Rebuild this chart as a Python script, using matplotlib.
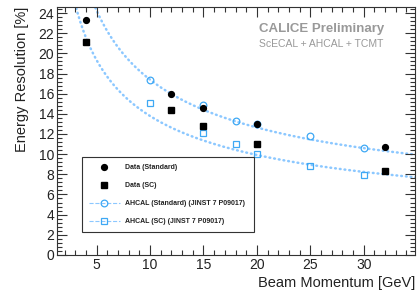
import numpy as np
import matplotlib
matplotlib.use('Agg')
import matplotlib.pyplot as plt
from matplotlib.ticker import MultipleLocator

plt.rcParams['font.family'] = ['Liberation Sans', 'DejaVu Sans']

# data
e_data = [4, 12, 15, 20, 32]
res_std = [23.3, 16.0, 14.6, 13.0, 10.7]
res_sc = [21.1, 14.4, 12.8, 11.0, 8.3]

e_ahcal = [10, 15, 18, 20, 25, 30]
ahcal_std = [17.4, 14.9, 13.3, 13.0, 11.8, 10.6]
ahcal_sc = [15.1, 12.1, 11.0, 10.0, 8.8, 7.9]

# fit parameters sqrt(a^2/E + b^2)
fit_std = (53.4, 4.15)
fit_sc = (42.8, 2.6)

blue = '#3ea8f4'
lblue = '#8cc8ff'

fig = plt.figure(figsize=(4.2, 2.91), dpi=100)
ax = fig.add_axes([0.136, 0.124, 0.852, 0.852])

xs = np.linspace(1.0, 35, 400)
for a, b in (fit_std, fit_sc):
    ax.plot(xs, np.sqrt(a**2 / xs + b**2), color=lblue, ls=(0, (0.3, 1.6)),
            lw=1.8, dash_capstyle='round', zorder=1)

ax.plot(e_data, res_std, 'o', color='black', ms=4.2, label='Data (Standard)', zorder=3)
ax.plot(e_data, res_sc, 's', color='black', ms=4.2, label='Data (SC)', zorder=3)
ax.plot(e_ahcal, ahcal_std, 'o', mfc='none', mec=blue, mew=0.9, ms=4.8, zorder=2)
ax.plot(e_ahcal, ahcal_sc, 's', mfc='none', mec=blue, mew=0.9, ms=4.8, zorder=2)

# legend proxies
ax.plot([], [], marker='o', mfc='none', mec=blue, mew=0.9, ms=4.8, color=lblue,
        ls='--', lw=0.8, label='AHCAL (Standard) (JINST 7 P09017)')
ax.plot([], [], marker='s', mfc='none', mec=blue, mew=0.9, ms=4.8, color=lblue,
        ls='--', lw=0.8, label='AHCAL (SC) (JINST 7 P09017)')

ax.set_xlim(1.3, 34.8)
ax.set_ylim(0, 24.6)
ax.xaxis.set_major_locator(MultipleLocator(5))
ax.xaxis.set_minor_locator(MultipleLocator(1))
ax.yaxis.set_major_locator(MultipleLocator(2))
ax.yaxis.set_minor_locator(MultipleLocator(0.4))
ax.tick_params(which='both', direction='in', top=True, right=True,
               labelsize=10, pad=2, width=0.8, color='#333333', labelcolor='#222222')
ax.tick_params(which='major', length=7)
ax.tick_params(which='minor', length=3.5)
for s in ax.spines.values():
    s.set_linewidth(0.8)
    s.set_color('#333333')

ax.set_xlabel('Beam Momentum [GeV]', fontsize=10.5, loc='right', labelpad=3, color='#222222')
ax.set_ylabel('Energy Resolution [%]', fontsize=10.5, loc='top', labelpad=7, color='#222222')

ax.text(0.564, 0.9, 'CALICE Preliminary', transform=ax.transAxes,
        fontsize=9.5, fontweight='bold', color='#999999')
ax.text(0.564, 0.84, 'ScECAL + AHCAL + TCMT', transform=ax.transAxes,
        fontsize=7.5, color='#999999')

leg = ax.legend(loc='lower left', bbox_to_anchor=(0.059, 0.077, 0.502, 0.306),
                mode='expand', prop={'weight': 'bold', 'size': 5},
                fancybox=False, edgecolor='#333333', framealpha=1,
                handlelength=4.5, labelspacing=1.6, borderpad=1.0,
                handletextpad=0.8)
leg.get_frame().set_linewidth(0.8)
for t in leg.get_texts():
    t.set_color('#222222')

fig.savefig('out.png', dpi=100)
